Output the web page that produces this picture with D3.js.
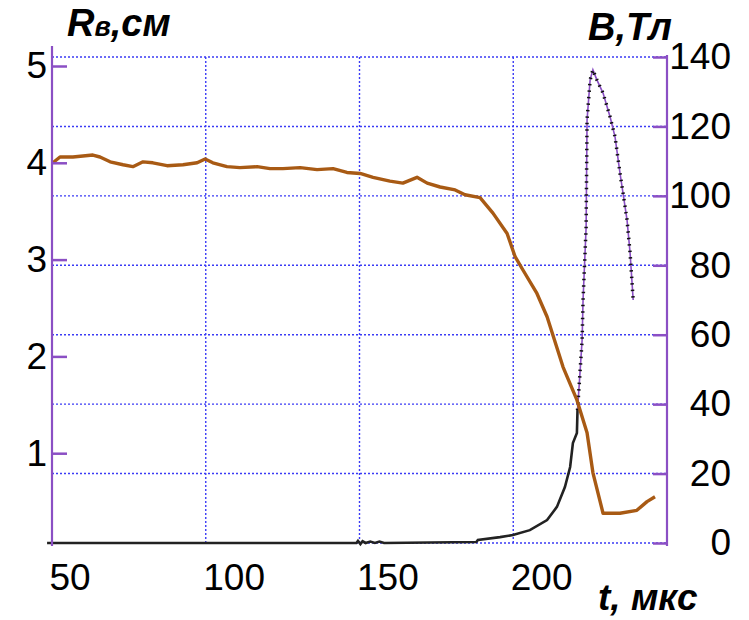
<!DOCTYPE html>
<html>
<head>
<meta charset="utf-8">
<script src="https://cdn.jsdelivr.net/npm/d3@7"></script>
<style>
body { margin: 0; background: #fff; }
text { font-family: "Liberation Sans", Arial, sans-serif; }
</style>
</head>
<body>
<script>
// radius R (cm), left axis
var rTime = [50.3, 52.6, 56.8, 63.3, 65.6, 68.9, 73.1, 76.3, 79.6, 82.8, 87.4, 92.6, 97.2, 99.8, 102.3, 106.9, 111.1, 116.7, 120.9, 125.1, 130.7, 136.2, 141.4, 145.9, 150.2, 154.4, 159.9, 164.1, 168.7, 172.0, 176.2, 181.1, 184.3, 189.2, 193.4, 198.0, 200.6, 203.2, 207.7, 211.0, 216.2, 220.7, 224.0, 225.9, 229.2, 234.7, 240.2, 243.5, 246.1];
var rValue = [4.00, 4.06, 4.06, 4.08, 4.06, 4.01, 3.98, 3.96, 4.01, 4.00, 3.97, 3.98, 4.00, 4.04, 4.00, 3.96, 3.95, 3.96, 3.94, 3.94, 3.95, 3.93, 3.94, 3.90, 3.89, 3.85, 3.81, 3.79, 3.85, 3.79, 3.75, 3.72, 3.67, 3.64, 3.48, 3.27, 3.03, 2.89, 2.65, 2.41, 1.89, 1.55, 1.21, 0.80, 0.38, 0.38, 0.41, 0.50, 0.55];
// field B (T), right axis: slow rise (black) and pulse (purple)
var bRiseTime = [48.4, 149, 149.5, 150.3, 151, 152, 153.5, 155, 156.5, 158, 188, 188.5, 195.7, 199.9, 205.4, 211.0, 214.2, 216.8, 218.5, 219.4, 220.7, 220.9];
var bRiseValue = [0, 0, 0.6, -0.3, 0.5, 0, 0.4, 0, 0.4, 0, 0.3, 0.9, 1.7, 2.3, 3.7, 6.6, 10.4, 16.1, 21.9, 28.8, 31.7, 38.3];
var bPulseTime = [220.9, 221.4, 222.4, 222.7, 223.7, 224.0, 225.0, 225.9, 227.2, 229.2, 231.5, 233.1, 234.7, 235.7, 237.0, 238.0, 239.0];
var bPulseValue = [38.3, 44.9, 58.5, 70.0, 91.0, 121.9, 133.4, 136.3, 133.4, 129.6, 122.7, 117.0, 106.6, 100.8, 93.1, 83.5, 70.0];

var xTicks = [50, 100, 150, 200];
var rTicks = [1, 2, 3, 4, 5];
var bTicks = [0, 20, 40, 60, 80, 100, 120, 140];

var svgWidth = 749;
var svgHeight = 620;
var purple = "#8b4fc4";
var gridBlue = "#3b3bf5";

var svg = d3.select("body").append("svg")
    .attr("width", svgWidth)
    .attr("height", svgHeight);

var xScale = d3.scaleLinear().domain([50, 250]).range([52, 667]);
var rScale = d3.scaleLinear().domain([0, 5]).range([550, 66]);
var bScale = d3.scaleLinear().domain([0, 140]).range([543, 57]);

// grid
svg.append("g").selectAll("line")
    .data(bTicks)
    .enter().append("line")
    .attr("x1", xScale(50))
    .attr("x2", xScale(250))
    .attr("y1", function(d) { return bScale(d); })
    .attr("y2", function(d) { return bScale(d); })
    .attr("stroke", gridBlue)
    .attr("stroke-width", 1.4)
    .attr("stroke-dasharray", "2,2");
svg.append("g").selectAll("line")
    .data(xTicks.slice(1))
    .enter().append("line")
    .attr("x1", function(d) { return xScale(d); })
    .attr("x2", function(d) { return xScale(d); })
    .attr("y1", bScale(0))
    .attr("y2", bScale(140))
    .attr("stroke", gridBlue)
    .attr("stroke-width", 1.4)
    .attr("stroke-dasharray", "2,2");

// curves
var bLine = d3.line()
    .x(function(d) { return xScale(d[0]); })
    .y(function(d) { return bScale(d[1]); });
var rLine = d3.line()
    .x(function(d) { return xScale(d[0]); })
    .y(function(d) { return rScale(d[1]); });

var rise = d3.zip(bRiseTime, bRiseValue);
var pulse = d3.zip(bPulseTime, bPulseValue);
var radius = d3.zip(rTime, rValue);

svg.append("path")
    .attr("d", bLine(pulse))
    .attr("fill", "none")
    .attr("stroke", purple)
    .attr("stroke-width", 1.6);
svg.append("path")          // little black marks along the pulse
    .attr("d", bLine(pulse))
    .attr("fill", "none")
    .attr("stroke", "#111")
    .attr("stroke-width", 3.5)
    .attr("stroke-dasharray", "1.5,5");
svg.append("path")
    .attr("d", bLine(rise))
    .attr("fill", "none")
    .attr("stroke", "#222")
    .attr("stroke-width", 2.6);

svg.append("path")
    .attr("d", rLine(radius))
    .attr("fill", "none")
    .attr("stroke", "#a85a14")
    .attr("stroke-width", 3.4)
    .attr("stroke-linejoin", "round");

// axes
var leftAxis = d3.axisLeft(rScale)
    .tickValues(rTicks)
    .tickSizeInner(-15)
    .tickSizeOuter(0)
    .tickPadding(5)
    .tickFormat(d3.format("d"));
var gl = svg.append("g")
    .attr("transform", "translate(" + xScale(50) + ",0)")
    .call(leftAxis);
gl.select(".domain").remove();
gl.selectAll("line").attr("stroke", purple).attr("stroke-width", 2.5);
gl.selectAll("text")
    .attr("font-size", 37)
    .attr("fill", "#000");

var rightAxis = d3.axisRight(bScale)
    .tickValues(bTicks)
    .tickSizeInner(-14)
    .tickSizeOuter(0)
    .tickFormat(d3.format("d"));
var gr = svg.append("g")
    .attr("transform", "translate(" + xScale(250) + ",0)")
    .call(rightAxis);
gr.select(".domain").remove();
gr.selectAll("line").attr("stroke", purple).attr("stroke-width", 2.5);
gr.selectAll("text")
    .attr("x", 64)
    .attr("text-anchor", "end")
    .attr("font-size", 37)
    .attr("fill", "#000");

svg.append("line")
    .attr("x1", xScale(50)).attr("x2", xScale(50))
    .attr("y1", bScale(0) + 3).attr("y2", rScale(5) - 20)
    .attr("stroke", purple).attr("stroke-width", 2.2);
svg.append("line")
    .attr("x1", xScale(250)).attr("x2", xScale(250))
    .attr("y1", bScale(0) + 3).attr("y2", bScale(140) - 2)
    .attr("stroke", purple).attr("stroke-width", 2.2);

var bottomAxis = d3.axisBottom(xScale)
    .tickValues(xTicks)
    .tickSize(0)
    .tickFormat(d3.format("d"));
var gb = svg.append("g")
    .attr("transform", "translate(0," + bScale(0) + ")")
    .call(bottomAxis);
gb.select(".domain").remove();
gb.selectAll("text")
    .attr("x", -3)
    .attr("y", 47)
    .attr("dy", 0)
    .attr("text-anchor", "start")
    .attr("font-size", 37)
    .attr("fill", "#000");

// axis titles
var tR = svg.append("text")
    .attr("x", 67).attr("y", 36)
    .attr("font-size", 38)
    .attr("font-weight", "bold")
    .attr("font-style", "italic");
tR.append("tspan").text("R");
tR.append("tspan").attr("font-size", 27).text("в");
tR.append("tspan").text(",см");

svg.append("text")
    .attr("x", 588).attr("y", 40)
    .attr("font-size", 38)
    .attr("font-weight", "bold")
    .attr("font-style", "italic")
    .text("B,Тл");

svg.append("text")
    .attr("x", 598).attr("y", 610)
    .attr("font-size", 37)
    .attr("font-weight", "bold")
    .attr("font-style", "italic")
    .text("t, мкс");
</script>
</body>
</html>
